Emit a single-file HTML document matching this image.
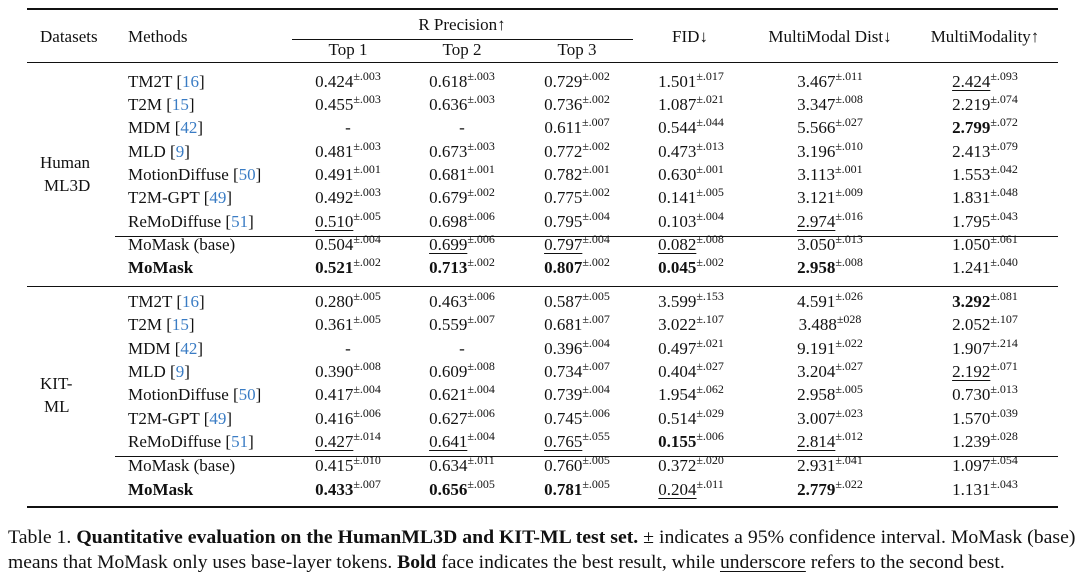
<!DOCTYPE html>
<html><head><meta charset="utf-8"><style>
body{margin:0;background:#fff;width:1080px;height:581px;overflow:hidden;position:relative;font-family:"Liberation Serif",serif;color:#111;font-size:17px}
.r{position:absolute;height:20px;line-height:20px;white-space:nowrap}
.c{position:absolute;transform:translateX(-50%);white-space:nowrap}
.m{position:absolute;left:128px}
sup{font-size:12px;vertical-align:0;position:relative;top:-7px}
.b{font-weight:bold}
.u{text-decoration:underline;text-decoration-thickness:1px;text-underline-offset:3px}
a{color:#3a7cc4}
.ln{position:absolute;background:#111}
</style></head><body>
<div class="ln" style="left:27px;top:8px;width:1031px;height:2px"></div>
<div class="ln" style="left:292px;top:39px;width:341px;height:1px"></div>
<div class="ln" style="left:27px;top:62px;width:1031px;height:1px"></div>
<div class="ln" style="left:115px;top:236px;width:943px;height:1px"></div>
<div class="ln" style="left:27px;top:286px;width:1031px;height:1px"></div>
<div class="ln" style="left:115px;top:456px;width:943px;height:1px"></div>
<div class="ln" style="left:27px;top:506px;width:1031px;height:2px"></div>

<div class="r" style="top:27px;left:40px">Datasets</div>
<div class="r" style="top:27px;left:128px">Methods</div>
<div class="r" style="top:15px;width:1080px"><span class="c" style="left:462px">R Precision↑</span></div>
<div class="r" style="top:27px;width:1080px"><span class="c" style="left:690px">FID↓</span><span class="c" style="left:830px">MultiModal Dist↓</span><span class="c" style="left:985px">MultiModality↑</span></div>
<div class="r" style="top:40px;width:1080px"><span class="c" style="left:348px">Top 1</span><span class="c" style="left:462px">Top 2</span><span class="c" style="left:577px">Top 3</span></div>

<div class="r" style="top:153px;left:40px">Human</div>
<div class="r" style="top:176px;left:44px">ML3D</div>
<div class="r" style="top:374px;left:40px">KIT-</div>
<div class="r" style="top:397px;left:44px">ML</div>

<div class="r" style="top:72px;width:1080px"><span class="m">TM2T [<a>16</a>]</span><span class="c" style="left:348px">0.424<sup>±.003</sup></span><span class="c" style="left:462px">0.618<sup>±.003</sup></span><span class="c" style="left:577px">0.729<sup>±.002</sup></span><span class="c" style="left:691px">1.501<sup>±.017</sup></span><span class="c" style="left:830px">3.467<sup>±.011</sup></span><span class="c" style="left:985px"><span class="u">2.424</span><sup>±.093</sup></span></div>
<div class="r" style="top:95px;width:1080px"><span class="m">T2M [<a>15</a>]</span><span class="c" style="left:348px">0.455<sup>±.003</sup></span><span class="c" style="left:462px">0.636<sup>±.003</sup></span><span class="c" style="left:577px">0.736<sup>±.002</sup></span><span class="c" style="left:691px">1.087<sup>±.021</sup></span><span class="c" style="left:830px">3.347<sup>±.008</sup></span><span class="c" style="left:985px">2.219<sup>±.074</sup></span></div>
<div class="r" style="top:118px;width:1080px"><span class="m">MDM [<a>42</a>]</span><span class="c" style="left:348px">-</span><span class="c" style="left:462px">-</span><span class="c" style="left:577px">0.611<sup>±.007</sup></span><span class="c" style="left:691px">0.544<sup>±.044</sup></span><span class="c" style="left:830px">5.566<sup>±.027</sup></span><span class="c" style="left:985px"><span class="b">2.799</span><sup>±.072</sup></span></div>
<div class="r" style="top:142px;width:1080px"><span class="m">MLD [<a>9</a>]</span><span class="c" style="left:348px">0.481<sup>±.003</sup></span><span class="c" style="left:462px">0.673<sup>±.003</sup></span><span class="c" style="left:577px">0.772<sup>±.002</sup></span><span class="c" style="left:691px">0.473<sup>±.013</sup></span><span class="c" style="left:830px">3.196<sup>±.010</sup></span><span class="c" style="left:985px">2.413<sup>±.079</sup></span></div>
<div class="r" style="top:165px;width:1080px"><span class="m">MotionDiffuse [<a>50</a>]</span><span class="c" style="left:348px">0.491<sup>±.001</sup></span><span class="c" style="left:462px">0.681<sup>±.001</sup></span><span class="c" style="left:577px">0.782<sup>±.001</sup></span><span class="c" style="left:691px">0.630<sup>±.001</sup></span><span class="c" style="left:830px">3.113<sup>±.001</sup></span><span class="c" style="left:985px">1.553<sup>±.042</sup></span></div>
<div class="r" style="top:188px;width:1080px"><span class="m">T2M-GPT [<a>49</a>]</span><span class="c" style="left:348px">0.492<sup>±.003</sup></span><span class="c" style="left:462px">0.679<sup>±.002</sup></span><span class="c" style="left:577px">0.775<sup>±.002</sup></span><span class="c" style="left:691px">0.141<sup>±.005</sup></span><span class="c" style="left:830px">3.121<sup>±.009</sup></span><span class="c" style="left:985px">1.831<sup>±.048</sup></span></div>
<div class="r" style="top:212px;width:1080px"><span class="m">ReMoDiffuse [<a>51</a>]</span><span class="c" style="left:348px"><span class="u">0.510</span><sup>±.005</sup></span><span class="c" style="left:462px">0.698<sup>±.006</sup></span><span class="c" style="left:577px">0.795<sup>±.004</sup></span><span class="c" style="left:691px">0.103<sup>±.004</sup></span><span class="c" style="left:830px"><span class="u">2.974</span><sup>±.016</sup></span><span class="c" style="left:985px">1.795<sup>±.043</sup></span></div>
<div class="r" style="top:235px;width:1080px"><span class="m">MoMask (base)</span><span class="c" style="left:348px">0.504<sup>±.004</sup></span><span class="c" style="left:462px"><span class="u">0.699</span><sup>±.006</sup></span><span class="c" style="left:577px"><span class="u">0.797</span><sup>±.004</sup></span><span class="c" style="left:691px"><span class="u">0.082</span><sup>±.008</sup></span><span class="c" style="left:830px">3.050<sup>±.013</sup></span><span class="c" style="left:985px">1.050<sup>±.061</sup></span></div>
<div class="r" style="top:258px;width:1080px"><span class="m b">MoMask</span><span class="c" style="left:348px"><span class="b">0.521</span><sup>±.002</sup></span><span class="c" style="left:462px"><span class="b">0.713</span><sup>±.002</sup></span><span class="c" style="left:577px"><span class="b">0.807</span><sup>±.002</sup></span><span class="c" style="left:691px"><span class="b">0.045</span><sup>±.002</sup></span><span class="c" style="left:830px"><span class="b">2.958</span><sup>±.008</sup></span><span class="c" style="left:985px">1.241<sup>±.040</sup></span></div>

<div class="r" style="top:292px;width:1080px"><span class="m">TM2T [<a>16</a>]</span><span class="c" style="left:348px">0.280<sup>±.005</sup></span><span class="c" style="left:462px">0.463<sup>±.006</sup></span><span class="c" style="left:577px">0.587<sup>±.005</sup></span><span class="c" style="left:691px">3.599<sup>±.153</sup></span><span class="c" style="left:830px">4.591<sup>±.026</sup></span><span class="c" style="left:985px"><span class="b">3.292</span><sup>±.081</sup></span></div>
<div class="r" style="top:315px;width:1080px"><span class="m">T2M [<a>15</a>]</span><span class="c" style="left:348px">0.361<sup>±.005</sup></span><span class="c" style="left:462px">0.559<sup>±.007</sup></span><span class="c" style="left:577px">0.681<sup>±.007</sup></span><span class="c" style="left:691px">3.022<sup>±.107</sup></span><span class="c" style="left:830px">3.488<sup>±028</sup></span><span class="c" style="left:985px">2.052<sup>±.107</sup></span></div>
<div class="r" style="top:339px;width:1080px"><span class="m">MDM [<a>42</a>]</span><span class="c" style="left:348px">-</span><span class="c" style="left:462px">-</span><span class="c" style="left:577px">0.396<sup>±.004</sup></span><span class="c" style="left:691px">0.497<sup>±.021</sup></span><span class="c" style="left:830px">9.191<sup>±.022</sup></span><span class="c" style="left:985px">1.907<sup>±.214</sup></span></div>
<div class="r" style="top:362px;width:1080px"><span class="m">MLD [<a>9</a>]</span><span class="c" style="left:348px">0.390<sup>±.008</sup></span><span class="c" style="left:462px">0.609<sup>±.008</sup></span><span class="c" style="left:577px">0.734<sup>±.007</sup></span><span class="c" style="left:691px">0.404<sup>±.027</sup></span><span class="c" style="left:830px">3.204<sup>±.027</sup></span><span class="c" style="left:985px"><span class="u">2.192</span><sup>±.071</sup></span></div>
<div class="r" style="top:385px;width:1080px"><span class="m">MotionDiffuse [<a>50</a>]</span><span class="c" style="left:348px">0.417<sup>±.004</sup></span><span class="c" style="left:462px">0.621<sup>±.004</sup></span><span class="c" style="left:577px">0.739<sup>±.004</sup></span><span class="c" style="left:691px">1.954<sup>±.062</sup></span><span class="c" style="left:830px">2.958<sup>±.005</sup></span><span class="c" style="left:985px">0.730<sup>±.013</sup></span></div>
<div class="r" style="top:409px;width:1080px"><span class="m">T2M-GPT [<a>49</a>]</span><span class="c" style="left:348px">0.416<sup>±.006</sup></span><span class="c" style="left:462px">0.627<sup>±.006</sup></span><span class="c" style="left:577px">0.745<sup>±.006</sup></span><span class="c" style="left:691px">0.514<sup>±.029</sup></span><span class="c" style="left:830px">3.007<sup>±.023</sup></span><span class="c" style="left:985px">1.570<sup>±.039</sup></span></div>
<div class="r" style="top:432px;width:1080px"><span class="m">ReMoDiffuse [<a>51</a>]</span><span class="c" style="left:348px"><span class="u">0.427</span><sup>±.014</sup></span><span class="c" style="left:462px"><span class="u">0.641</span><sup>±.004</sup></span><span class="c" style="left:577px"><span class="u">0.765</span><sup>±.055</sup></span><span class="c" style="left:691px"><span class="b">0.155</span><sup>±.006</sup></span><span class="c" style="left:830px"><span class="u">2.814</span><sup>±.012</sup></span><span class="c" style="left:985px">1.239<sup>±.028</sup></span></div>
<div class="r" style="top:456px;width:1080px"><span class="m">MoMask (base)</span><span class="c" style="left:348px">0.415<sup>±.010</sup></span><span class="c" style="left:462px">0.634<sup>±.011</sup></span><span class="c" style="left:577px">0.760<sup>±.005</sup></span><span class="c" style="left:691px">0.372<sup>±.020</sup></span><span class="c" style="left:830px">2.931<sup>±.041</sup></span><span class="c" style="left:985px">1.097<sup>±.054</sup></span></div>
<div class="r" style="top:480px;width:1080px"><span class="m b">MoMask</span><span class="c" style="left:348px"><span class="b">0.433</span><sup>±.007</sup></span><span class="c" style="left:462px"><span class="b">0.656</span><sup>±.005</sup></span><span class="c" style="left:577px"><span class="b">0.781</span><sup>±.005</sup></span><span class="c" style="left:691px"><span class="u">0.204</span><sup>±.011</sup></span><span class="c" style="left:830px"><span class="b">2.779</span><sup>±.022</sup></span><span class="c" style="left:985px">1.131<sup>±.043</sup></span></div>

<div class="r" style="top:528px;left:8px;font-size:19px;transform:scaleX(1.04);transform-origin:left">Table 1. <b>Quantitative evaluation on the HumanML3D and KIT-ML test set.</b> ± indicates a 95% confidence interval. MoMask (base)</div>
<div class="r" style="top:553px;left:8px;font-size:19px;transform:scaleX(1.03);transform-origin:left">means that MoMask only uses base-layer tokens. <b>Bold</b> face indicates the best result, while <span class="u">underscore</span> refers to the second best.</div>
</body></html>
